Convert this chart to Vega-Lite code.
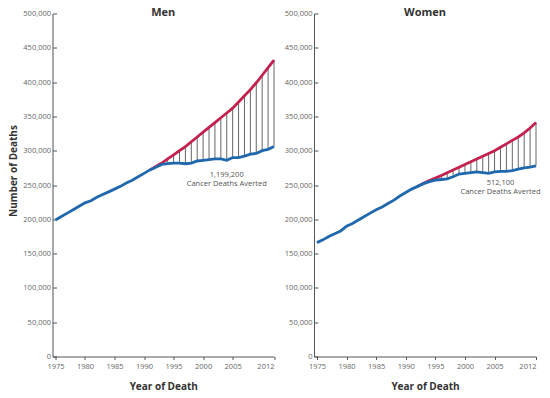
{
  "$schema": "https://vega.github.io/schema/vega-lite/v6.json",
  "background": "white",
  "padding": {"left": 7.5, "top": 6.5, "right": 5, "bottom": 5},
  "spacing": 39.5,
  "bounds": "flush",
  "config": {
    "view": {"stroke": null},
    "font": "Open Sans",
    "axis": {
      "grid": false,
      "labelOverlap": false,
      "domainColor": "#555555",
      "tickColor": "#555555",
      "labelColor": "#666666",
      "labelFont": "Open Sans",
      "labelFontSize": 7.5,
      "titleFont": "Open Sans",
      "titleFontSize": 10,
      "titleFontWeight": "bold",
      "titleColor": "#333333"
    },
    "title": {"font": "Open Sans", "fontSize": 11, "fontWeight": "bold", "color": "#333333", "baseline": "middle"}
  },
  "datasets": {
    "deaths": [
      {"sex": "Men", "year": 1975, "observed": 199000, "expected": null},
      {"sex": "Men", "year": 1976, "observed": 204000, "expected": null},
      {"sex": "Men", "year": 1977, "observed": 209000, "expected": null},
      {"sex": "Men", "year": 1978, "observed": 214000, "expected": null},
      {"sex": "Men", "year": 1979, "observed": 219000, "expected": null},
      {"sex": "Men", "year": 1980, "observed": 224000, "expected": null},
      {"sex": "Men", "year": 1981, "observed": 227000, "expected": null},
      {"sex": "Men", "year": 1982, "observed": 232000, "expected": null},
      {"sex": "Men", "year": 1983, "observed": 236000, "expected": null},
      {"sex": "Men", "year": 1984, "observed": 240000, "expected": null},
      {"sex": "Men", "year": 1985, "observed": 244000, "expected": null},
      {"sex": "Men", "year": 1986, "observed": 248000, "expected": null},
      {"sex": "Men", "year": 1987, "observed": 253000, "expected": null},
      {"sex": "Men", "year": 1988, "observed": 257000, "expected": null},
      {"sex": "Men", "year": 1989, "observed": 262000, "expected": null},
      {"sex": "Men", "year": 1990, "observed": 267000, "expected": null},
      {"sex": "Men", "year": 1991, "observed": 272000, "expected": 272000},
      {"sex": "Men", "year": 1992, "observed": 276000, "expected": 277000},
      {"sex": "Men", "year": 1993, "observed": 280000, "expected": 282000},
      {"sex": "Men", "year": 1994, "observed": 281000, "expected": 288000},
      {"sex": "Men", "year": 1995, "observed": 282000, "expected": 294000},
      {"sex": "Men", "year": 1996, "observed": 282000, "expected": 300000},
      {"sex": "Men", "year": 1997, "observed": 281000, "expected": 306000},
      {"sex": "Men", "year": 1998, "observed": 282000, "expected": 313000},
      {"sex": "Men", "year": 1999, "observed": 285000, "expected": 320000},
      {"sex": "Men", "year": 2000, "observed": 286000, "expected": 327000},
      {"sex": "Men", "year": 2001, "observed": 287000, "expected": 334000},
      {"sex": "Men", "year": 2002, "observed": 288000, "expected": 341000},
      {"sex": "Men", "year": 2003, "observed": 288000, "expected": 348000},
      {"sex": "Men", "year": 2004, "observed": 286000, "expected": 355000},
      {"sex": "Men", "year": 2005, "observed": 290000, "expected": 362000},
      {"sex": "Men", "year": 2006, "observed": 290000, "expected": 371000},
      {"sex": "Men", "year": 2007, "observed": 292000, "expected": 380000},
      {"sex": "Men", "year": 2008, "observed": 295000, "expected": 389000},
      {"sex": "Men", "year": 2009, "observed": 296000, "expected": 399000},
      {"sex": "Men", "year": 2010, "observed": 300000, "expected": 410000},
      {"sex": "Men", "year": 2011, "observed": 302000, "expected": 421000},
      {"sex": "Men", "year": 2012, "observed": 306000, "expected": 432000},
      {"sex": "Women", "year": 1975, "observed": 166000, "expected": null},
      {"sex": "Women", "year": 1976, "observed": 170000, "expected": null},
      {"sex": "Women", "year": 1977, "observed": 175000, "expected": null},
      {"sex": "Women", "year": 1978, "observed": 179000, "expected": null},
      {"sex": "Women", "year": 1979, "observed": 183000, "expected": null},
      {"sex": "Women", "year": 1980, "observed": 190000, "expected": null},
      {"sex": "Women", "year": 1981, "observed": 194000, "expected": null},
      {"sex": "Women", "year": 1982, "observed": 199000, "expected": null},
      {"sex": "Women", "year": 1983, "observed": 204000, "expected": null},
      {"sex": "Women", "year": 1984, "observed": 209000, "expected": null},
      {"sex": "Women", "year": 1985, "observed": 214000, "expected": null},
      {"sex": "Women", "year": 1986, "observed": 218000, "expected": null},
      {"sex": "Women", "year": 1987, "observed": 223000, "expected": null},
      {"sex": "Women", "year": 1988, "observed": 228000, "expected": null},
      {"sex": "Women", "year": 1989, "observed": 234000, "expected": null},
      {"sex": "Women", "year": 1990, "observed": 239000, "expected": null},
      {"sex": "Women", "year": 1991, "observed": 244000, "expected": null},
      {"sex": "Women", "year": 1992, "observed": 248000, "expected": 248000},
      {"sex": "Women", "year": 1993, "observed": 252000, "expected": 252500},
      {"sex": "Women", "year": 1994, "observed": 255000, "expected": 256500},
      {"sex": "Women", "year": 1995, "observed": 257000, "expected": 260000},
      {"sex": "Women", "year": 1996, "observed": 258000, "expected": 264000},
      {"sex": "Women", "year": 1997, "observed": 259000, "expected": 268000},
      {"sex": "Women", "year": 1998, "observed": 262000, "expected": 272000},
      {"sex": "Women", "year": 1999, "observed": 266000, "expected": 276000},
      {"sex": "Women", "year": 2000, "observed": 267000, "expected": 280000},
      {"sex": "Women", "year": 2001, "observed": 268000, "expected": 284000},
      {"sex": "Women", "year": 2002, "observed": 269000, "expected": 288000},
      {"sex": "Women", "year": 2003, "observed": 268000, "expected": 292000},
      {"sex": "Women", "year": 2004, "observed": 267000, "expected": 296000},
      {"sex": "Women", "year": 2005, "observed": 269000, "expected": 300000},
      {"sex": "Women", "year": 2006, "observed": 270000, "expected": 305000},
      {"sex": "Women", "year": 2007, "observed": 270000, "expected": 310000},
      {"sex": "Women", "year": 2008, "observed": 271000, "expected": 315000},
      {"sex": "Women", "year": 2009, "observed": 273000, "expected": 320000},
      {"sex": "Women", "year": 2010, "observed": 275000, "expected": 326000},
      {"sex": "Women", "year": 2011, "observed": 276000, "expected": 333000},
      {"sex": "Women", "year": 2012, "observed": 278000, "expected": 341000}
    ],
    "notes": [
      {"sex": "Men", "year": 2004, "value": 264000, "label": ["1,199,200", "Cancer Deaths Averted"]},
      {"sex": "Women", "year": 2006, "value": 253000, "label": ["512,100", "Cancer Deaths Averted"]}
    ]
  },
  "hconcat": [
    {
      "width": 221.5,
      "height": 343,
      "title": {"text": "Men", "offset": -8},
      "layer": [
        {
          "data": {"name": "deaths"},
          "transform": [{"filter": "datum.sex === 'Men' && isValid(datum.expected) && datum.expected > datum.observed"}],
          "mark": {"type": "rule", "color": "#555555", "strokeWidth": 0.9},
          "encoding": {
            "x": {
              "field": "year", "type": "quantitative",
              "scale": {"domain": [1974.5, 2012], "nice": false, "zero": false},
              "axis": {"title": "Year of Death", "values": [1975, 1980, 1985, 1990, 1995, 2000, 2005, 2012], "tickCount": 50, "format": "d", "labelOverlap": false, "tickSize": 3, "labelPadding": 3, "titlePadding": 11}
            },
            "y": {
              "field": "expected", "type": "quantitative",
              "scale": {"domain": [0, 500000], "nice": false},
              "axis": {"title": "Number of Deaths", "values": [0, 50000, 100000, 150000, 200000, 250000, 300000, 350000, 400000, 450000, 500000], "tickCount": 50, "format": ",d", "labelOverlap": false, "tickSize": -4, "labelPadding": 6, "titleX": -39.5, "titleY": 157, "titleBaseline": "middle"}
            },
            "y2": {"field": "observed"}
          }
        },
        {
          "data": {"name": "deaths"},
          "transform": [{"filter": "datum.sex === 'Men' && isValid(datum.expected)"}],
          "mark": {"type": "line", "color": "#c4214f", "strokeWidth": 2.8},
          "encoding": {
            "x": {"field": "year", "type": "quantitative"},
            "y": {"field": "expected", "type": "quantitative"}
          }
        },
        {
          "data": {"name": "deaths"},
          "transform": [{"filter": "datum.sex === 'Men'"}],
          "mark": {"type": "line", "color": "#1f68ad", "strokeWidth": 2.8},
          "encoding": {
            "x": {"field": "year", "type": "quantitative"},
            "y": {"field": "observed", "type": "quantitative"}
          }
        },
        {
          "data": {"name": "notes"},
          "transform": [{"filter": "datum.sex === 'Men'"}],
          "mark": {"type": "text", "fontSize": 7.5, "color": "#555555", "lineHeight": 9, "align": "center", "baseline": "middle"},
          "encoding": {
            "x": {"field": "year", "type": "quantitative"},
            "y": {"field": "value", "type": "quantitative"},
            "text": {"field": "label"}
          }
        }
      ]
    },
    {
      "width": 222,
      "height": 343,
      "title": {"text": "Women", "offset": -8},
      "layer": [
        {
          "data": {"name": "deaths"},
          "transform": [{"filter": "datum.sex === 'Women' && isValid(datum.expected) && datum.expected > datum.observed"}],
          "mark": {"type": "rule", "color": "#555555", "strokeWidth": 0.9},
          "encoding": {
            "x": {
              "field": "year", "type": "quantitative",
              "scale": {"domain": [1974.5, 2012], "nice": false, "zero": false},
              "axis": {"title": "Year of Death", "values": [1975, 1980, 1985, 1990, 1995, 2000, 2005, 2012], "tickCount": 50, "format": "d", "labelOverlap": false, "tickSize": 3, "labelPadding": 3, "titlePadding": 11}
            },
            "y": {
              "field": "expected", "type": "quantitative",
              "scale": {"domain": [0, 500000], "nice": false},
              "axis": {"title": null, "values": [0, 50000, 100000, 150000, 200000, 250000, 300000, 350000, 400000, 450000, 500000], "tickCount": 50, "format": ",d", "labelOverlap": false, "tickSize": -4, "labelPadding": 6}
            },
            "y2": {"field": "observed"}
          }
        },
        {
          "data": {"name": "deaths"},
          "transform": [{"filter": "datum.sex === 'Women' && isValid(datum.expected)"}],
          "mark": {"type": "line", "color": "#c4214f", "strokeWidth": 2.8},
          "encoding": {
            "x": {"field": "year", "type": "quantitative"},
            "y": {"field": "expected", "type": "quantitative"}
          }
        },
        {
          "data": {"name": "deaths"},
          "transform": [{"filter": "datum.sex === 'Women'"}],
          "mark": {"type": "line", "color": "#1f68ad", "strokeWidth": 2.8},
          "encoding": {
            "x": {"field": "year", "type": "quantitative"},
            "y": {"field": "observed", "type": "quantitative"}
          }
        },
        {
          "data": {"name": "notes"},
          "transform": [{"filter": "datum.sex === 'Women'"}],
          "mark": {"type": "text", "fontSize": 7.5, "color": "#555555", "lineHeight": 9, "align": "center", "baseline": "middle"},
          "encoding": {
            "x": {"field": "year", "type": "quantitative"},
            "y": {"field": "value", "type": "quantitative"},
            "text": {"field": "label"}
          }
        }
      ]
    }
  ]
}
